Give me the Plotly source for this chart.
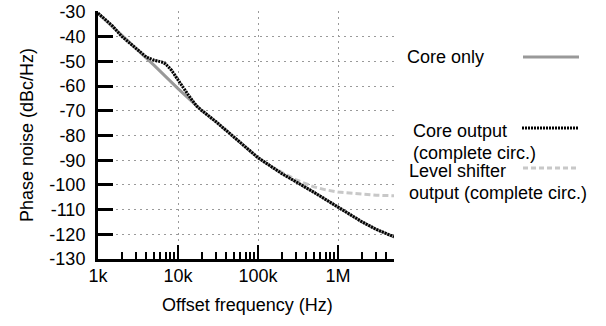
import plotly.graph_objects as go

# ---- data ----
core_only_f = [1e3, 2e3, 5e3, 1e4, 2e4, 3e4, 5e4, 1e5, 2e5, 3e5, 5e5, 1e6, 2e6, 3e6, 5e6]
core_only_db = [-30.5, -39.5, -51.5, -61, -70, -74.5, -80.5, -89, -95.5, -98.8, -103, -109, -115, -118, -121]

core_out_f = [1e3, 1.5e3, 2e3, 3e3, 4e3, 5e3, 6.2e3, 7e3, 8.3e3, 1e4, 1.2e4, 1.4e4, 1.7e4, 2e4, 3e4, 5e4,
              1e5, 2e5, 3e5, 5e5, 1e6, 2e6, 3e6, 5e6]
core_out_db = [-30.5, -35.5, -40, -45, -48.2, -49.5, -50.2, -51, -53.6, -57.5, -61.5, -64.4, -68, -70,
               -74.5, -80.5, -89, -95.5, -98.8, -103, -109, -115, -118, -121]

level_f = [1e3, 1.5e3, 2e3, 3e3, 4e3, 5e3, 6.2e3, 7e3, 8.3e3, 1e4, 1.2e4, 1.4e4, 1.7e4, 2e4, 3e4, 5e4,
           1e5, 1.5e5, 2e5, 3e5, 5e5, 7e5, 1e6, 2e6, 3e6, 5e6]
level_db = [-30.5, -35.5, -40, -45, -48.2, -49.5, -50.2, -51, -53.6, -57.5, -61.5, -64.4, -68, -70,
            -74.5, -80.5, -89, -92.8, -95, -98, -100.8, -102, -102.9, -103.9, -104.2, -104.4]

y_ticks = [-30, -40, -50, -60, -70, -80, -90, -100, -110, -120, -130]
y_tick_labels = ["-30", "-40", "-50", "-60", "-70", "-80", "-90", "-100", "-110", "-120", "-130"]
x_ticks = [1e3, 1e4, 1e5, 1e6]
x_tick_labels = ["1k", "10k", "100k", "1M"]
x_minor = [m * d for d in (1e3, 1e4, 1e5) for m in range(2, 10)] + [2e6, 3e6, 4e6, 5e6]

legend_lines = [["Core only"], ["Core output", "(complete circ.)"], ["Level shifter", "output (complete circ.)"]]

FONT = "Liberation Sans, Arial, sans-serif"

# plot area in page pixels (body margin removed in the page)
L, R, T, B = 98, 394, 11, 259
W, H = 606, 326
def px(x):
    return (x - L) / (R - L)
def py(y):
    return (B - y) / (B - T)

fig = go.Figure()
fig.add_trace(go.Scatter(x=level_f, y=level_db, mode="lines",
                         line=dict(color="#c8c8c8", width=3, dash="6px,3px"), showlegend=False))
fig.add_trace(go.Scatter(x=core_only_f, y=core_only_db, mode="lines",
                         line=dict(color="#999999", width=3), showlegend=False))
fig.add_trace(go.Scatter(x=core_out_f, y=core_out_db, mode="lines",
                         line=dict(color="#000000", width=3, dash="2px,1px"), showlegend=False))

fig.update_layout(
    width=W, height=H,
    margin=dict(l=L, r=W - R, t=T, b=H - B, pad=0),
    paper_bgcolor="white", plot_bgcolor="white",
    font=dict(family=FONT, size=18, color="black"),
    xaxis=dict(type="log", range=[3, 6.69897], tickvals=x_ticks, ticktext=x_tick_labels,
               ticks="inside", ticklen=14, tickwidth=2, tickcolor="black",
               showline=True, linewidth=3, linecolor="black",
               showgrid=True, gridcolor="#9a9a9a", gridwidth=1, griddash="2px,4px",
               minor=dict(tickvals=x_minor, ticks="inside", ticklen=7, tickwidth=2,
                          tickcolor="black", showgrid=False),
               zeroline=False, automargin=False, ticklabelstandoff=-2),
    yaxis=dict(range=[-130, -29.6], tickvals=y_ticks, ticktext=y_tick_labels,
               ticks="inside", ticklen=15, tickwidth=3, tickcolor="black",
               showline=True, linewidth=3, linecolor="black",
               showgrid=True, gridcolor="#9a9a9a", gridwidth=1, griddash="2px,4px",
               zeroline=False, automargin=False, ticklabelstandoff=6,
               ticklabeloverflow="allow"),
)

# axis titles
fig.add_annotation(text="Phase noise (dBc/Hz)", xref="paper", yref="paper",
                   x=px(27), y=py(135), textangle=-90, showarrow=False,
                   xanchor="center", yanchor="middle")
fig.add_annotation(text="Offset frequency (Hz)", xref="paper", yref="paper",
                   x=px(247), y=py(305), showarrow=False,
                   xanchor="center", yanchor="middle")

# custom legend (text on the left, line sample on the right)
text_pos = [[(405, 57)], [(411, 131), (411, 153)], [(407, 171), (407, 193)]]
for lines, poss in zip(legend_lines, text_pos):
    for t, (tx, ty) in zip(lines, poss):
        fig.add_annotation(text=t, xref="paper", yref="paper", x=px(tx), y=py(ty),
                           showarrow=False, xanchor="left", yanchor="middle", align="left")
fig.add_shape(type="line", xref="paper", yref="paper", x0=px(523), x1=px(579), y0=py(57), y1=py(57),
              line=dict(color="#999999", width=3))
fig.add_shape(type="line", xref="paper", yref="paper", x0=px(522), x1=px(579), y0=py(128), y1=py(128),
              line=dict(color="#000000", width=3, dash="2px,1px"))
fig.add_shape(type="line", xref="paper", yref="paper", x0=px(523), x1=px(579), y0=py(168), y1=py(168),
              line=dict(color="#c8c8c8", width=3, dash="5px,3px"))

fig.write_html("out.html", config={"displayModeBar": False},
               post_script="document.body.style.margin='0';")
